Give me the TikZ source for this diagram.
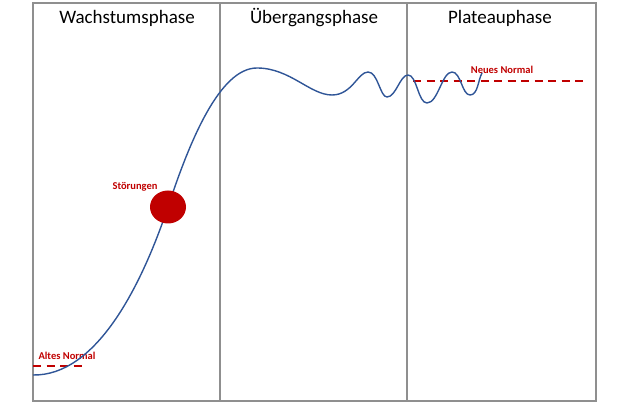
\documentclass[tikz,border=0pt]{standalone}
\usepackage{fontspec}
\setmainfont{Carlito}
\usepackage{xcolor}
\usetikzlibrary{positioning,calc,shapes.geometric}
\definecolor{curveblue}{HTML}{2F5597}
\definecolor{normred}{HTML}{C00000}
\definecolor{framegray}{HTML}{8F8F8F}
\tikzset{
  phaseline/.style={framegray, line width=1.6pt},
  phasetitle/.style={font=\fontsize{19}{22}\selectfont, inner sep=0pt},
  redlabel/.style={normred, font=\bfseries\fontsize{10.5}{12}\selectfont, inner sep=0pt},
  normline/.style={normred, line width=2pt, dash pattern=on 8pt off 5.5pt}
}
\begin{document}
\begin{tikzpicture}[x=1pt, y=-1pt]
    \useasboundingbox (0,0) rectangle (622,411);

    % frame and phases
    \draw[phaseline] (33,3) rectangle (596,401);
    \draw[phaseline] (220,3) -- (220,401);
    \draw[phaseline] (407,3) -- (407,401);

    % titles
    \node[phasetitle] (wachstum) at (127,18) {Wachstumsphase};
    \node[phasetitle] (uebergang) at (314,18) {Übergangsphase};
    \node[phasetitle] (plateau) at (500,18) {Plateauphase};

    % old and new normal
    \coordinate (altA) at (33,366);
    \coordinate (altB) at (86,366);
    \draw[normline] (altA) -- (altB);
    \node[redlabel] (altes) at (67,356) {Altes Normal};

    \coordinate (neuA) at (413,81);
    \coordinate (neuB) at (584,81);
    \draw[normline] (neuA) -- (neuB);
    \node[redlabel] (neues) at (502,70) {Neues Normal};

    % curve
    \draw[curveblue, line width=1.4pt] (33,375)
      .. controls (95,376) and (140,290) .. (168,207)
      .. controls (190,140) and (220,68) .. (257,68)
      .. controls (290,68) and (310,95) .. (332,95)
      .. controls (352,95) and (358,72) .. (368,72)
      .. controls (378,72) and (380,97) .. (387,97)
      .. controls (396,97) and (400,75) .. (408,75)
      .. controls (417,75) and (418,103) .. (427,103)
      .. controls (438,103) and (442,72) .. (452,72)
      .. controls (461,72) and (462,95) .. (470,95)
      .. controls (478,95) and (478,80) .. (482,73);

    % disturbance
    \node[fill=normred, ellipse, minimum width=36pt, minimum height=33pt,
          inner sep=0pt] (stoer) at (168,207) {};
    \node[redlabel] (stoerlabel) at (135,187) {Störungen};
\end{tikzpicture}
\end{document}
